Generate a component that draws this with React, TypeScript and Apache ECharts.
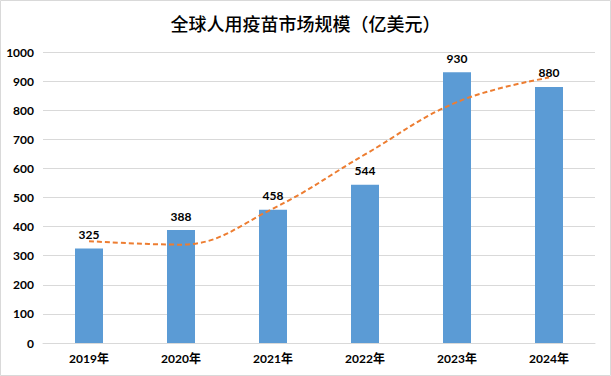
import React, { useEffect, useRef } from "react";
import * as echarts from "echarts";

const categories = ["2019年", "2020年", "2021年", "2022年", "2023年", "2024年"];
const values = [325, 388, 458, 544, 930, 880];
const trendValues = [350, 338, 462, 648, 828, 912];
const titleText = "全球人用疫苗市场规模（亿美元）";

export default function App() {
  const ref = useRef<HTMLDivElement>(null);
  useEffect(() => {
    const chart = echarts.init(ref.current!, null, { renderer: "svg" });
    const font = "Lato, 'Noto Sans CJK SC', sans-serif";
    chart.setOption({
      animation: false,
      backgroundColor: "#ffffff",
      title: {
        text: titleText,
        left: "center",
        top: 9,
        textStyle: {
          fontFamily: "'Noto Sans CJK SC', sans-serif",
          fontSize: 18,
          fontWeight: 500,
          color: "#000000",
        },
      },
      grid: { left: 43, right: 16, top: 52, bottom: 33, containLabel: false },
      xAxis: {
        type: "category",
        data: categories,
        axisLine: { show: true, lineStyle: { color: "#D9D9D9", width: 1 } },
        axisTick: { show: false },
        axisLabel: {
          color: "#000000",
          fontFamily: font,
          fontSize: 12,
          fontWeight: "bold",
          margin: 9,
        },
      },
      yAxis: {
        type: "value",
        min: 0,
        max: 1000,
        interval: 100,
        axisLine: { show: false },
        axisTick: { show: false },
        splitLine: { lineStyle: { color: "#D9D9D9", width: 1 } },
        axisLabel: {
          color: "#000000",
          fontFamily: font,
          fontSize: 12,
          fontWeight: "bold",
          margin: 9,
          formatter: (v: number) => String(v),
        },
      },
      series: [
        {
          type: "bar",
          data: values,
          barWidth: 28,
          itemStyle: { color: "#5B9BD5" },
          label: {
            show: true,
            position: "top",
            distance: 8,
            color: "#000000",
            fontFamily: font,
            fontSize: 12,
            fontWeight: "bold",
          },
          z: 2,
        },
        {
          type: "line",
          data: trendValues,
          smooth: 0.4,
          symbol: "none",
          lineStyle: { color: "#ED7D31", width: 2, type: [5, 3] },
          z: 3,
          silent: true,
        },
      ],
      graphic: [
        {
          type: "rect",
          shape: { x: 0.5, y: 0.5, width: 610, height: 375 },
          style: { fill: "none", stroke: "#D9D9D9", lineWidth: 1 },
          silent: true,
        },
      ],
    });
    return () => chart.dispose();
  }, []);
  return (
    <div
      ref={ref}
      style={{ position: "absolute", left: 0, top: 0, width: 611, height: 376 }}
    />
  );
}
